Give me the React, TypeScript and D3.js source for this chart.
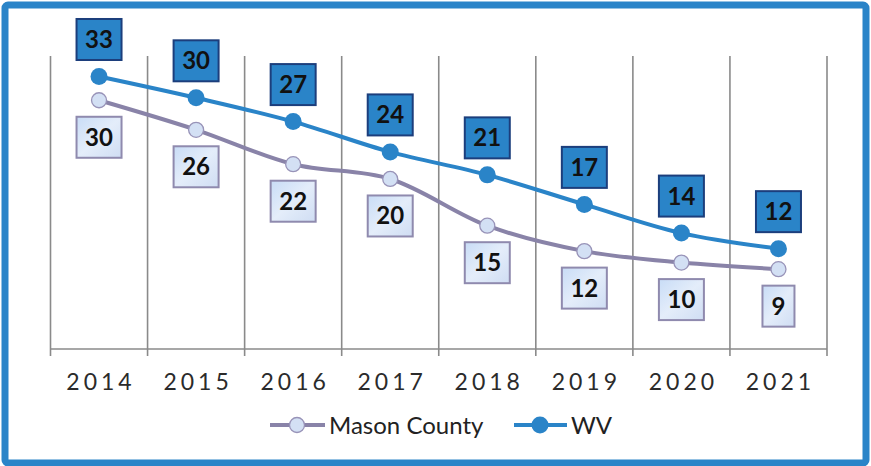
import React from 'react'
import * as d3 from "d3"

const years = ["2014", "2015", "2016", "2017", "2018", "2019", "2020", "2021"];
// values estimated from point positions; labels show them rounded
const masonValues = [30.0, 26.4, 22.2, 20.4, 14.7, 11.6, 10.2, 9.4];
const wvValues = [32.9, 30.3, 27.4, 23.7, 20.9, 17.3, 13.8, 11.9];
const seriesNames = ["Mason County", "WV"];

const width = 871;
const height = 466;
const font = "Lato, 'Open Sans', sans-serif";

function App() {
    const x = d3.scaleBand().domain(years).range([50.5, 827]).padding(0);
    const y = d3.scaleLinear().domain([-0.34, 35.4]).range([349, 56]);
    const fmt = d3.format(".0f");

    const line = d3
        .line<number>()
        .x((d, i) => (x(years[i]) as number) + x.bandwidth() / 2)
        .y(d => y(d))
        .curve(d3.curveCatmullRom.alpha(0.5));

    const cx = (i: number) => (x(years[i]) as number) + x.bandwidth() / 2;
    const boxW = (v: number) => (fmt(v).length > 1 ? 45 : 32);

    const wvBlue = "#2A84C8";
    const masonLine = "#8983A8";

    return (
        <svg width={width} height={height} style={{ position: "absolute", left: 0, top: 0, background: "#fff" }}>
            <defs>
                <linearGradient id="masonFill" x1="0" y1="0" x2="1" y2="1">
                    <stop offset="0%" stopColor="#C8DCF6" />
                    <stop offset="50%" stopColor="#E4EDFA" />
                    <stop offset="100%" stopColor="#CFDDF3" />
                </linearGradient>
            </defs>
            <rect x={5} y={5} width={width - 10} height={height - 8} rx={3} fill="#fff" stroke={wvBlue} strokeWidth={7} />

            {/* gridlines */}
            {years.map(yr => (
                <line key={yr} x1={x(yr)} x2={x(yr)} y1={56} y2={356} stroke="#8a8a8a" strokeWidth={1.6} />
            ))}
            <line x1={827} x2={827} y1={56} y2={356} stroke="#8a8a8a" strokeWidth={1.6} />
            <line x1={50.5} x2={827} y1={349} y2={349} stroke="#8a8a8a" strokeWidth={1.6} />

            {years.map(yr => (
                <text key={yr} x={(x(yr) as number) + x.bandwidth() / 2 + 2} y={390} textAnchor="middle"
                    fontFamily={font} fontSize={23} letterSpacing={4} fill="#2b2b2b">{yr}</text>
            ))}

            {/* lines */}
            <path d={line(masonValues) as string} fill="none" stroke={masonLine} strokeWidth={4} />
            <path d={line(wvValues) as string} fill="none" stroke={wvBlue} strokeWidth={4} />

            {masonValues.map((v, i) => (
                <circle key={i} cx={cx(i)} cy={y(v)} r={7.5} fill="#D3E0F4" stroke="#9893B8" strokeWidth={1.3} />
            ))}
            {wvValues.map((v, i) => (
                <circle key={i} cx={cx(i)} cy={y(v)} r={8.5} fill={wvBlue} />
            ))}

            {/* labels */}
            {wvValues.map((v, i) => (
                <g key={i} transform={`translate(${cx(i)}, ${y(v) - 37})`}>
                    <rect x={-boxW(v) / 2} y={-20.5} width={boxW(v)} height={41} fill={wvBlue} stroke="#1C3E7C" strokeWidth={2} />
                    <text y={8.5} textAnchor="middle" fontFamily={font} fontWeight="bold" fontSize={24} fill="#111">{fmt(v)}</text>
                </g>
            ))}
            {masonValues.map((v, i) => (
                <g key={i} transform={`translate(${cx(i)}, ${y(v) + 37})`}>
                    <rect x={-boxW(v) / 2} y={-20.5} width={boxW(v)} height={41} fill="url(#masonFill)" stroke="#8F8AAE" strokeWidth={2} />
                    <text y={8.5} textAnchor="middle" fontFamily={font} fontWeight="bold" fontSize={24} fill="#111">{fmt(v)}</text>
                </g>
            ))}

            {/* legend */}
            <g transform="translate(0, 425)">
                <line x1={270} x2={325} y1={0} y2={0} stroke={masonLine} strokeWidth={4} />
                <circle cx={297} cy={0} r={7.5} fill="#D3E0F4" stroke="#9893B8" strokeWidth={1.3} />
                <text x={329} y={8.5} fontFamily={font} fontSize={24} fill="#222">{seriesNames[0]}</text>
                <line x1={514} x2={567} y1={0} y2={0} stroke={wvBlue} strokeWidth={4} />
                <circle cx={540} cy={0} r={8.5} fill={wvBlue} />
                <text x={571} y={8.5} fontFamily={font} fontSize={24} fill="#222">{seriesNames[1]}</text>
            </g>
        </svg>
    )
}

export default App
